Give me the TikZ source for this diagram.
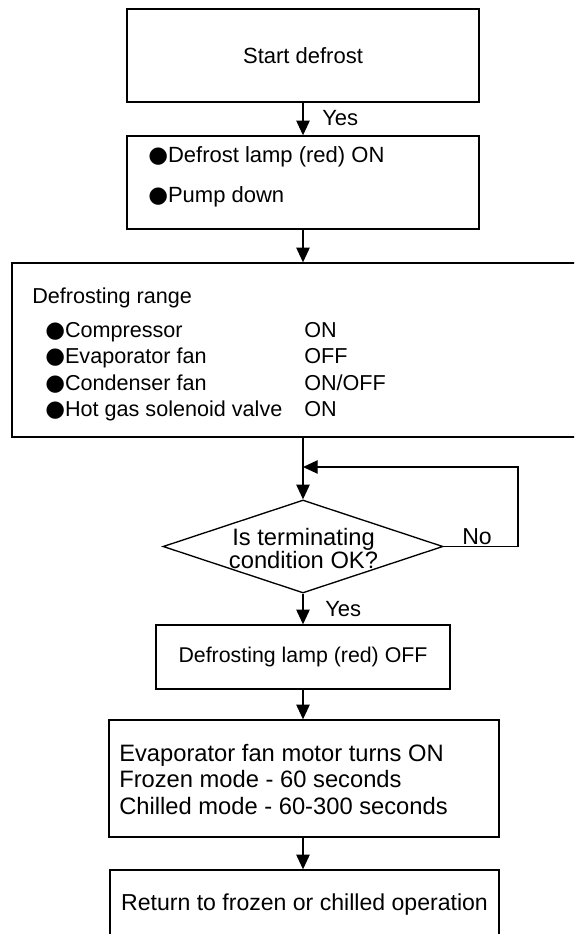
\documentclass[tikz,border=0pt]{standalone}
\usepackage{fontspec}
\setmainfont{Liberation Sans}
\newfontfamily\dotfont{DejaVu Sans}
\usetikzlibrary{arrows.meta,shapes.geometric}

\newcommand{\bul}{{\dotfont\fontsize{17}{17}\selectfont ●}}
\newcommand{\fs}[1]{\fontsize{#1}{#1}\selectfont}

\tikzset{
  box/.style={draw, line width=1pt, inner sep=0pt},
  flow/.style={line width=1pt, -{Triangle[length=11pt,width=10pt]}},
  txt/.style={inner sep=0pt, anchor=base west},
}

\begin{document}
\begin{tikzpicture}[x=0.75pt,y=-0.75pt]
\useasboundingbox (0,0) rectangle (574,934);
\clip (0,0) rectangle (574,934);

% boxes
\node[box, minimum width=264pt, minimum height=69.75pt, font=\fs{16.5}] (start) at (303,55.5) {Start defrost};
\node[box, minimum width=264pt, minimum height=69.75pt] (lampon) at (303,182.5) {};
\node[box, minimum width=436.5pt, minimum height=130.5pt] (range) at (303,350) {};
\node[box, diamond, minimum width=210pt, minimum height=69.75pt] (dec) at (303,546.5) {};
\node[box, minimum width=220.5pt, minimum height=48pt, font=\fs{16}] (off) at (303,657) {Defrosting lamp (red) OFF};
\node[box, minimum width=292.5pt, minimum height=87.75pt] (evap) at (304,778.5) {};
\node[box, minimum width=291.75pt, minimum height=52.5pt, font=\fs{17.3}] (ret) at (304.5,905) {Return to frozen or chilled operation};

% texts
\node[txt, font=\fs{16.5}] (lampon1) at (148,163) {\bul Defrost lamp (red) ON};
\node[txt, font=\fs{16.5}] (lampon2) at (148,203) {\bul Pump down};

\node[txt, font=\fs{16.2}] (rangehd) at (32,303) {Defrosting range};
\node[txt, font=\fs{16.2}] (part1) at (45,337) {\bul Compressor};
\node[txt, font=\fs{16.2}] (part2) at (45,363) {\bul Evaporator fan};
\node[txt, font=\fs{16.2}] (part3) at (45,390) {\bul Condenser fan};
\node[txt, font=\fs{16.2}] (part4) at (45,416) {\bul Hot gas solenoid valve};
\node[txt, font=\fs{16.2}] (state1) at (304,337) {ON};
\node[txt, font=\fs{16.2}] (state2) at (304,363) {OFF};
\node[txt, font=\fs{16.2}] (state3) at (304,390) {ON/OFF};
\node[txt, font=\fs{16.2}] (state4) at (304,416) {ON};

\node[txt, anchor=base, font=\fs{17.8}] (dect1) at (303.5,545) {Is terminating};
\node[txt, anchor=base, font=\fs{17.8}] (dect2) at (303.5,568) {condition OK?};

\node[txt, font=\fs{17.8}] (evap1) at (119,761) {Evaporator fan motor turns ON};
\node[txt, font=\fs{17.8}] (evap2) at (119,787) {Frozen mode - 60 seconds};
\node[txt, font=\fs{17.8}] (evap3) at (119,814) {Chilled mode - 60-300 seconds};

\node[txt, font=\fs{16.5}] (yes1) at (322,126) {Yes};
\node[txt, font=\fs{16.5}] (yes2) at (325,616) {Yes};
\node[txt, font=\fs{17.3}] (no) at (462,544) {No};

% connectors
\coordinate (noturn) at (518,467);
\draw[flow] (start.south) -- (start.south |- lampon.north);
\draw[flow] (lampon.south) -- (lampon.south |- range.north);
\draw[flow] (dec.north |- range.south) -- (dec.north);
\draw[flow] (dec.east) -| (noturn) -- (dec.north |- noturn);
\draw[flow] (dec.south) -- (dec.south |- off.north);
\draw[flow] (off.south) -- (off.south |- evap.north);
\draw[flow] (off.south |- evap.south) -- (off.south |- ret.north);

\end{tikzpicture}
\end{document}
